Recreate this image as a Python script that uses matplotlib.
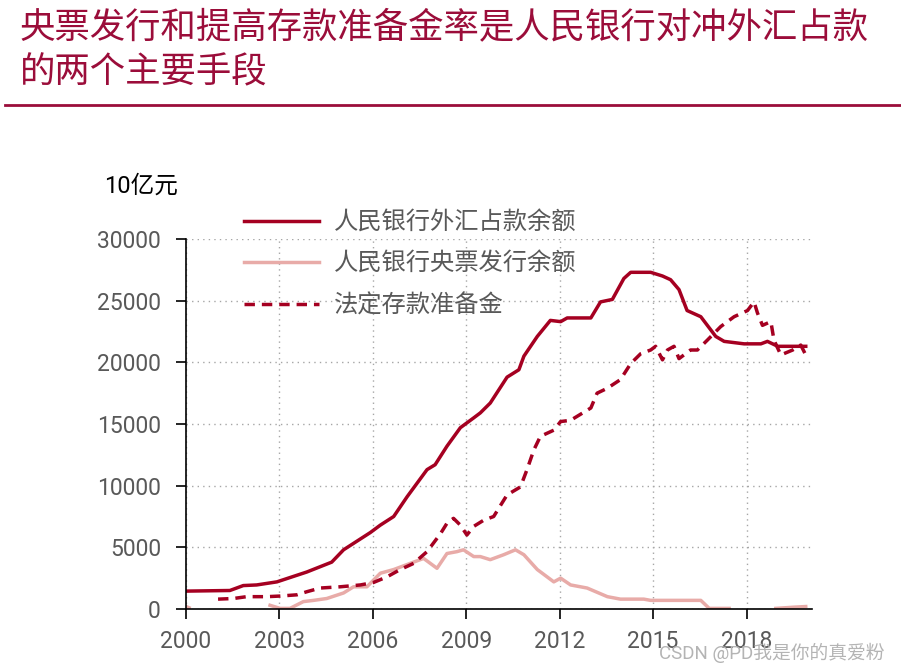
import numpy as np
import matplotlib
matplotlib.use('Agg')
import matplotlib.pyplot as plt

plt.rcParams['font.family'] = ['Roboto', 'Noto Sans CJK SC', 'DejaVu Sans']

# 人民银行外汇占款余额 (10亿元)
fx_years = [2000.0, 2001.41, 2001.84, 2002.27, 2002.92, 2003.88, 2004.68, 2005.06, 2005.92,
            2006.24, 2006.67, 2007.1, 2007.74, 2008.0, 2008.38, 2008.81, 2009.24, 2009.45,
            2009.77, 2010.31, 2010.69, 2010.85, 2011.28, 2011.7, 2012.03, 2012.24, 2013.0,
            2013.31, 2013.69, 2014.06, 2014.28, 2014.92, 2015.3, 2015.56, 2015.83, 2016.09,
            2016.53, 2017.01, 2017.28, 2017.92, 2018.46, 2018.67, 2019.0, 2019.9]
fx_vals = [1450, 1500, 1900, 1950, 2200, 3000, 3800, 4800, 6200,
           6800, 7500, 9100, 11300, 11700, 13200, 14700, 15500, 15900,
           16700, 18800, 19400, 20500, 22100, 23400, 23300, 23600, 23600,
           24900, 25100, 26800, 27300, 27300, 27000, 26700, 25900, 24200,
           23700, 22100, 21700, 21500, 21500, 21700, 21300, 21300]

# 人民银行央票发行余额
cb_years = [2000.0, 2000.1, 2000.2, 2002.7, 2003.02, 2003.34, 2003.77, 2004.1, 2004.52,
            2005.06, 2005.38, 2005.81, 2006.24, 2006.67, 2007.2, 2007.63, 2008.06, 2008.38,
            2008.7, 2008.91, 2009.24, 2009.45, 2009.77, 2010.2, 2010.58, 2010.85, 2011.28,
            2011.81, 2012.03, 2012.35, 2012.88, 2013.53, 2013.95, 2014.7, 2014.92, 2016.53,
            2016.8, 2017.44, 2017.5, 2018.94, 2019.53, 2019.9]
cb_vals = [200, 100, np.nan, 300, 50, 50, 600, 700, 850,
           1300, 1800, 1800, 2900, 3200, 3700, 4100, 3300, 4500,
           4650, 4800, 4250, 4250, 4000, 4400, 4800, 4400, 3200,
           2200, 2500, 1950, 1700, 1000, 800, 800, 700, 700,
           50, 50, np.nan, 50, 150, 200]

# 法定存款准备金
rr_years = [2001.03, 2001.52, 2001.95, 2002.6, 2003.02, 2003.56, 2003.88, 2004.31, 2004.95,
            2005.6, 2006.02, 2006.45, 2006.88, 2007.31, 2007.74, 2008.17, 2008.38, 2008.59,
            2008.81, 2009.02, 2009.24, 2009.56, 2009.88, 2010.1, 2010.31, 2010.74, 2010.95,
            2011.17, 2011.38, 2011.81, 2012.03, 2012.35, 2013.0, 2013.2, 2013.53, 2013.95,
            2014.28, 2014.6, 2014.92, 2015.08, 2015.3, 2015.46, 2015.67, 2015.83, 2016.2,
            2016.42, 2016.74, 2017.17, 2017.6, 2018.03, 2018.24, 2018.35, 2018.51, 2018.78,
            2018.88, 2019.1, 2019.48, 2019.74, 2019.9]
rr_vals = [800, 850, 1000, 1000, 1050, 1150, 1400, 1700, 1800,
           1950, 2150, 2600, 3200, 3700, 4650, 6100, 6950, 7350,
           6800, 6000, 6700, 7200, 7500, 8400, 9250, 9900, 11300,
           12900, 14000, 14500, 15200, 15300, 16300, 17500, 17900, 18600,
           19900, 20700, 21000, 21300, 20200, 21000, 21300, 20300, 21000,
           21000, 21800, 22900, 23700, 24200, 24900, 24000, 23000, 23300,
           21800, 20600, 21000, 21400, 20600]

x_ticks = [2000, 2003, 2006, 2009, 2012, 2015, 2018]
y_ticks = [0, 5000, 10000, 15000, 20000, 25000, 30000]

dark = '#A50021'
pink = '#E8ABA8'
grey = '#595959'

fig = plt.figure(figsize=(9.01, 6.71), dpi=100)
ax = fig.add_axes([0.2064, 0.0924, 0.6948, 0.5514])

l1, = ax.plot(fx_years, fx_vals, color=dark, lw=2.5)
l2, = ax.plot(cb_years, cb_vals, color=pink, lw=2.5)
l3, = ax.plot(rr_years, rr_vals, color=dark, lw=2.5, linestyle=(0, (3, 2)))

ax.set_xlim(2000, 2020.1)
ax.set_ylim(0, 30000)
ax.set_xticks(x_ticks)
ax.set_yticks(y_ticks)
ax.grid(True, color='#A6A6A6', linestyle=(0, (1, 3)), lw=1)
for s in ['top', 'right']:
    ax.spines[s].set_visible(False)
for s in ['left', 'bottom']:
    ax.spines[s].set_linewidth(1.2)
ax.tick_params(axis='both', direction='out', length=7, width=1.2, labelsize=16.5,
               labelcolor=grey)
ax.tick_params(axis='y', pad=11)
ax.tick_params(axis='x', pad=8)

fig.text(0.115, 0.722, '10亿元', fontsize=17, color='black', va='center')

leg = fig.legend([l1, l2, l3], ['人民银行外汇占款余额', '人民银行央票发行余额', '法定存款准备金'],
                 loc='upper left', bbox_to_anchor=(0.2467, 0.718), frameon=False,
                 fontsize=17.5, handlelength=3.1, handletextpad=0.6, labelspacing=0.76)
for t in leg.get_texts():
    t.set_color(grey)

fig.text(0.022, 0.985, '央票发行和提高存款准备金率是人民银行对冲外汇占款\n的两个主要手段',
         fontsize=25.5, color='#9B0D3A', va='top', linespacing=1.45)
fig.add_artist(plt.Line2D([0.006, 1.0], [0.843, 0.843], color='#9B0D3A', lw=2))

fig.text(0.982, 0.027, 'CSDN @PD我是你的真爱粉', fontsize=13.5, color='#B4B4B4',
         ha='right', va='center')

fig.savefig('out.png', dpi=100)
